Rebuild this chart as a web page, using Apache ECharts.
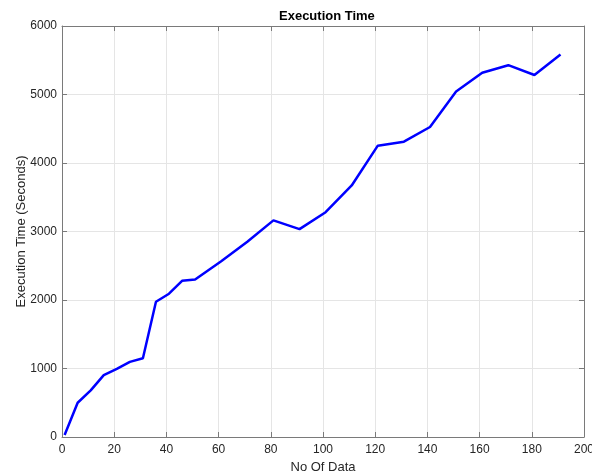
<!DOCTYPE html>
<html>
<head>
<meta charset="utf-8">
<script src="https://cdn.jsdelivr.net/npm/echarts@6/dist/echarts.min.js"></script>
<style>html,body{margin:0;padding:0;background:#fff}#c{width:592px;height:476px}</style>
</head>
<body>
<div id="c"></div>
<script>
const xValues = [1, 6, 11, 16, 21, 26, 31, 36, 41, 46, 51, 61, 71, 81, 91, 101, 111, 121, 131, 141, 151, 161, 171, 181, 191];
const timeValues = [30, 500, 680, 903, 995, 1097, 1150, 1975, 2092, 2280, 2300, 2565, 2850, 3162, 3035, 3282, 3672, 4253, 4311, 4526, 5044, 5317, 5428, 5285, 5584];
const titleText = 'Execution Time';
const xLabel = 'No Of Data';
const yLabel = 'Execution Time (Seconds)';

const font = 'Liberation Sans, Arial, Helvetica, sans-serif';
const axisCol = '#7a7a7a';
const chart = echarts.init(document.getElementById('c'), null, {renderer: 'canvas'});
const baseX = {
  type: 'value', min: 0, max: 200, interval: 20,
  axisLine: {show: true, onZero: false, lineStyle: {color: axisCol, width: 1}},
  axisTick: {show: true, inside: true, length: 5, lineStyle: {color: axisCol}},
  splitLine: {show: false}
};
const baseY = {
  type: 'value', min: 0, max: 6000, interval: 1000,
  axisLine: {show: true, onZero: false, lineStyle: {color: axisCol, width: 1}},
  axisTick: {show: true, inside: true, length: 5, lineStyle: {color: axisCol}},
  splitLine: {show: false}
};
chart.setOption({
  animation: false,
  title: {text: titleText, left: 274, top: 5,
    textStyle: {fontFamily: font, fontSize: 13, fontWeight: 'bold', color: '#000'}},
  grid: {left: 62, right: 8, top: 26, bottom: 39, containLabel: false, outerBoundsMode: 'none'},
  xAxis: [
    Object.assign({}, baseX, {
      position: 'bottom',
      name: xLabel, nameLocation: 'middle', nameGap: 24, nameMoveOverlap: false,
      nameTextStyle: {fontFamily: font, fontSize: 13, color: '#262626'},
      axisLabel: {fontFamily: font, fontSize: 12, color: '#262626', margin: 7, formatter: v => String(v)},
      splitLine: {show: true, lineStyle: {color: '#e5e5e5', width: 1}}
    }),
    Object.assign({}, baseX, {position: 'top', axisLabel: {show: false}})
  ],
  yAxis: [
    Object.assign({}, baseY, {
      position: 'left',
      name: yLabel, nameLocation: 'middle', nameGap: 34, nameMoveOverlap: false,
      nameTextStyle: {fontFamily: font, fontSize: 13, color: '#262626'},
      axisLabel: {fontFamily: font, fontSize: 12, color: '#262626', margin: 5, formatter: v => String(v)},
      splitLine: {show: true, lineStyle: {color: '#e5e5e5', width: 1}}
    }),
    Object.assign({}, baseY, {position: 'right', axisLabel: {show: false}})
  ],
  series: [{
    type: 'line',
    data: xValues.map((x, i) => [x, timeValues[i]]),
    showSymbol: false,
    lineStyle: {color: '#0000ff', width: 2.5},
    itemStyle: {color: '#0000ff'}
  }]
});
</script>
</body>
</html>
